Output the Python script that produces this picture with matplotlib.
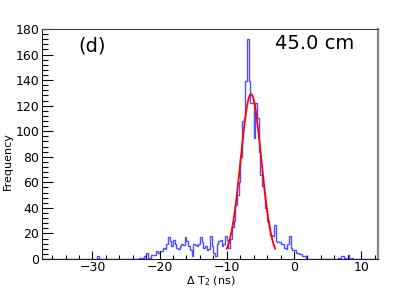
import numpy as np
import matplotlib
matplotlib.use("Agg")
import matplotlib.pyplot as plt
from matplotlib.ticker import MultipleLocator

# ---- data ----
bin_width = 0.25
x_min, x_max = -37.5, 12.5

# main populated segment, first bin lower edge at -24.0
main_start = -24.0
main_counts = [0, 0, 0, 0, 1, 1, 0, 2, 5, 1, 0, 3, 3, 3, 6, 5, 6, 6, 9, 8,
               12, 17, 14, 10, 15, 12, 9, 8, 10, 12, 11, 17, 14, 10, 7, 2, 12, 11, 10, 12,
               17, 13, 9, 10, 7, 8, 18, 10, 5, 2, 12, 14, 15, 10, 12, 18, 15, 9, 16, 25,
               30, 42, 50, 60, 80, 108, 110, 139, 172, 139, 122, 122, 95, 122, 110, 84, 66, 57, 52, 40,
               30, 24, 19, 18, 27, 14, 13, 13, 12, 12, 9, 8, 12, 18, 9, 7, 7, 5, 5, 4,
               4, 2, 2, 0]

# isolated sparse bins (lower edge, count)
sparse_edges = [-29.25, 6.5, 6.75, 7.0, 7.25, 7.5, 8.0, 8.5]
sparse_counts = [2, 1, 1, 2, 2, 1, 3, 1]

# gaussian fit
fit_amp, fit_mean, fit_sigma = 129.0, -6.4, 1.53
fit_lo, fit_hi = -10.0, -2.8

panel_label = "(d)"
pos_label = "45.0 cm"
xlabel = r"$\Delta$ T$_2$ (ns)"
ylabel = "Frequency"

# ---- build histogram ----
nb = int(round((x_max - x_min) / bin_width))
edges = x_min + bin_width * np.arange(nb + 1)
counts = np.zeros(nb)
i0 = int(round((main_start - x_min) / bin_width))
counts[i0:i0 + len(main_counts)] = main_counts
for e, c in zip(sparse_edges, sparse_counts):
    counts[int(round((e - x_min) / bin_width))] = c

plt.rcParams['font.family'] = ['DejaVu Sans']
plt.rcParams['mathtext.fontset'] = 'dejavusans'
fig = plt.figure(figsize=(4.2, 2.89), dpi=100)
ax = fig.add_axes([0.1, 1 - 259 / 289, 0.8, 230 / 289])

ax.stairs(counts, edges, color='#5050ff', lw=1.0)
xf = np.linspace(fit_lo, fit_hi, 300)
ax.plot(xf, fit_amp * np.exp(-0.5 * ((xf - fit_mean) / fit_sigma) ** 2), color='red', lw=1.3)

ax.set_xlim(x_min, x_max)
ax.set_ylim(0, 180)
ax.xaxis.set_major_locator(MultipleLocator(10))
ax.xaxis.set_minor_locator(MultipleLocator(2))
ax.yaxis.set_major_locator(MultipleLocator(20))
ax.yaxis.set_minor_locator(MultipleLocator(4))
ax.tick_params(axis='x', which='major', direction='in', length=6, width=0.8, labelsize=9, pad=1.5)
ax.tick_params(axis='x', which='minor', direction='in', length=3, width=0.8)
ax.tick_params(axis='y', which='major', direction='in', length=8, width=0.8, labelsize=9, pad=2)
ax.tick_params(axis='y', which='minor', direction='in', length=4, width=0.8)
ax.tick_params(top=False, right=False, which='both')

for s in ['left', 'bottom']:
    ax.spines[s].set_color('#222222')
    ax.spines[s].set_linewidth(0.8)
ax.spines['top'].set_color('#444444')
ax.spines['top'].set_linewidth(0.8)
ax.spines['right'].set_color('#888888')
ax.spines['right'].set_linewidth(1.6)

fig.text(78 / 420, 1 - 52 / 289, panel_label, fontsize=14, ha='left', va='baseline')
fig.text(354 / 420, 1 - 49 / 289, pos_label, fontsize=14, ha='right', va='baseline')
fig.text(211 / 420, 0.5 / 289, xlabel, fontsize=8, ha='center', va='bottom')
fig.text(8 / 420, 1 - 161 / 289, ylabel, fontsize=8, rotation=90, ha='center', va='center')

fig.savefig('out.png', dpi=100)
